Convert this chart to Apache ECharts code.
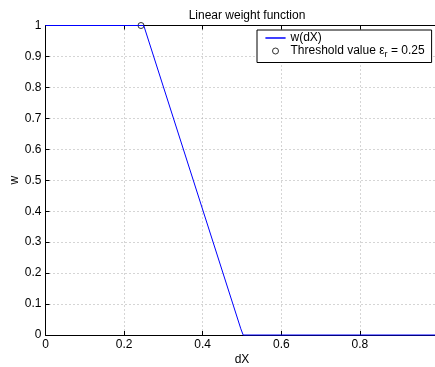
<!DOCTYPE html>
<html>
<head>
<meta charset="utf-8">
<script src="https://cdn.jsdelivr.net/npm/echarts@6/dist/echarts.min.js"></script>
<style>html,body{margin:0;padding:0;background:#fff;}#c{width:435px;height:367px;}</style>
</head>
<body>
<div id="c"></div>
<script>
const dX = [0, 0.25, 0.497, 0.503, 1];
const w = [1, 1, 0.02, 0, 0];
const thresholdX = [0.243];
const thresholdY = [1];
const xTicks = [0, 0.2, 0.4, 0.6, 0.8];
const yTicks = [0, 0.1, 0.2, 0.3, 0.4, 0.5, 0.6, 0.7, 0.8, 0.9, 1];
const lineName = 'w(dX)';
const thrName = 'Threshold value εr = 0.25';

const FONT = 'Liberation Sans';
const FS = 12;
const chart = echarts.init(document.getElementById('c'), null, {renderer: 'canvas'});
const dotted = {color: '#aaa', width: 1, type: [1, 3]};
chart.setOption({
  animation: false,
  backgroundColor: '#fff',
  textStyle: {fontFamily: FONT, color: '#000'},
  title: {
    text: 'Linear weight function', left: 242, top: 5, textAlign: 'center',
    textStyle: {fontFamily: FONT, fontSize: FS, fontWeight: 'normal', color: '#000'}
  },
  grid: {left: 45.5, top: 25.5, right: -3.5, bottom: 32, containLabel: false, outerBoundsMode: 'none'},
  legend: {
    left: 257, top: 30, orient: 'vertical',
    backgroundColor: '#fff', borderColor: '#000', borderWidth: 1,
    padding: [2, 7, 3, 6], itemGap: 1, itemWidth: 20, itemHeight: 6,
    data: [
      {name: lineName, icon: 'path://M0,0 L20,0 L20,0.01 L0,0.01 Z', itemStyle: {color: 'none', borderColor: '#0000ff', borderWidth: 1}},
      {name: thrName, icon: 'circle', itemStyle: {color: 'rgba(0,0,0,0)', borderColor: '#000', borderWidth: 1}}
    ],
    formatter: function (n) {
      if (n === thrName) return 'Threshold value ε{s|r} = 0.25';
      return n;
    },
    textStyle: {
      fontFamily: FONT, fontSize: FS, color: '#000', padding: [0, 0, 0, 0],
      rich: {s: {fontFamily: FONT, fontSize: 9, color: '#000', padding: [8, 0, 0, 0]}}
    }
  },
  xAxis: [{
    type: 'value', min: 0, max: 1, interval: 0.2,
    axisLine: {show: true, lineStyle: {color: '#000', width: 1}},
    axisTick: {show: true, inside: true, length: 4, lineStyle: {color: '#000'}},
    axisLabel: {
      fontFamily: FONT, fontSize: FS, color: '#000', margin: 4, showMaxLabel: false,
      formatter: function (v) { return xTicks.some(t => Math.abs(t - v) < 1e-9) ? String(+v.toFixed(2)) : ''; }
    },
    splitLine: {show: true, lineStyle: dotted},
    name: 'dX', nameLocation: 'middle', nameGap: 19, nameMoveOverlap: false,
    nameTextStyle: {fontFamily: FONT, fontSize: FS, color: '#000'}
  }, {
    type: 'value', min: 0, max: 1, interval: 0.2, position: 'top',
    axisLine: {show: true, onZero: false, lineStyle: {color: '#000', width: 1}},
    axisTick: {show: true, inside: true, length: 4, lineStyle: {color: '#000'}},
    axisLabel: {show: false}, splitLine: {show: false}
  }],
  yAxis: [{
    type: 'value', min: 0, max: 1, interval: 0.1,
    axisLine: {show: true, lineStyle: {color: '#000', width: 1}},
    axisTick: {show: true, inside: true, length: 4, lineStyle: {color: '#000'}},
    axisLabel: {
      fontFamily: FONT, fontSize: FS, color: '#000', margin: 4,
      formatter: function (v) { return String(+v.toFixed(2)); }
    },
    splitLine: {show: true, lineStyle: dotted},
    name: 'w', nameLocation: 'middle', nameGap: 25, nameRotate: 90, nameMoveOverlap: false,
    nameTextStyle: {fontFamily: FONT, fontSize: FS, color: '#000'}
  }],
  series: [{
    name: lineName, type: 'line', xAxisIndex: 0,
    data: dX.map((x, i) => [x, w[i]]),
    showSymbol: false, symbol: 'none', clip: false,
    lineStyle: {color: '#0000ff', width: 1}, itemStyle: {color: '#0000ff'}
  }, {
    name: thrName, type: 'scatter', xAxisIndex: 0,
    data: thresholdX.map((x, i) => [x, thresholdY[i]]),
    symbol: 'circle', symbolSize: 6, clip: false,
    itemStyle: {color: 'rgba(0,0,0,0)', borderColor: '#000', borderWidth: 1}
  }]
});
</script>
</body>
</html>
